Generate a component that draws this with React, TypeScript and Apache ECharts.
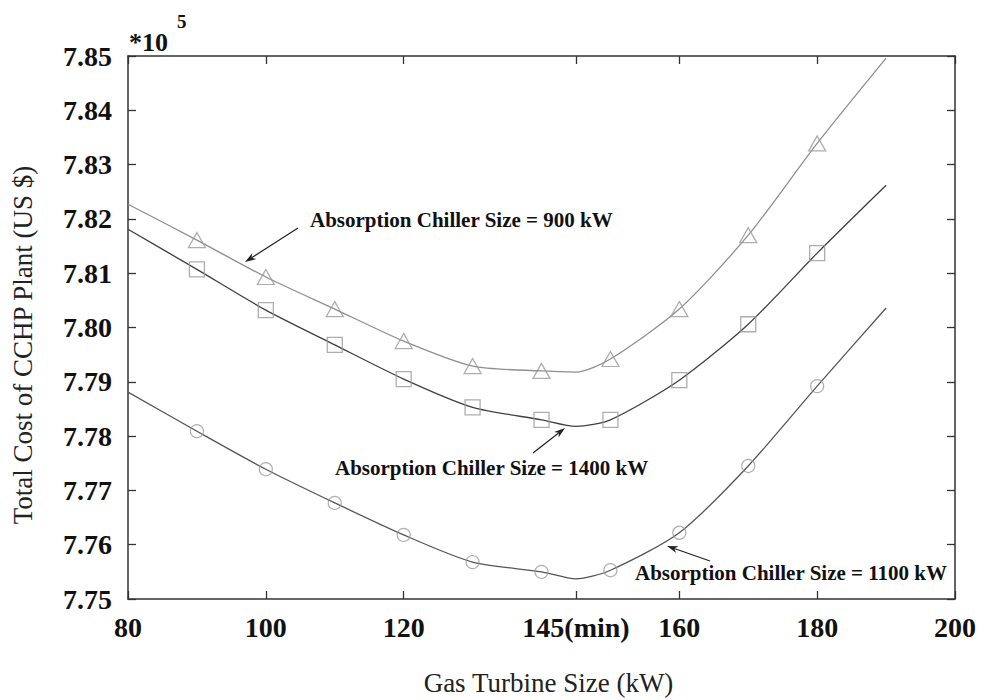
import React, { useEffect, useRef } from "react";
import * as echarts from "echarts";

// ---- data ----
const xTicks = [80, 100, 120, 145, 160, 180, 200];
const yMin = 7.75;
const yMax = 7.85;
const yStep = 0.01;

const markerX = [90, 100, 110, 120, 130, 140, 150, 160, 170, 180];
const markers900 = [7.8161, 7.8093, 7.8034, 7.7975, 7.7929, 7.792, 7.7942, 7.8034, 7.817, 7.8339];
const markers1400 = [7.8107, 7.8032, 7.7968, 7.7905, 7.7853, 7.783, 7.783, 7.7903, 7.8006, 7.8137];
const markers1100 = [7.7809, 7.7739, 7.7677, 7.7618, 7.7568, 7.755, 7.7553, 7.7622, 7.7745, 7.7892];

const curveX = [80, 90, 100, 110, 120, 130, 140, 145, 150, 160, 170, 180, 190];
const curve900 = [7.8227, 7.8161, 7.8093, 7.8034, 7.7975, 7.7929, 7.792, 7.7918, 7.7942, 7.8034, 7.817, 7.8339, 7.8496];
const curve1400 = [7.8181, 7.8107, 7.8032, 7.7968, 7.7905, 7.7853, 7.783, 7.7818, 7.783, 7.7903, 7.8006, 7.8137, 7.8262];
const curve1100 = [7.7881, 7.7809, 7.7739, 7.7677, 7.7618, 7.7568, 7.755, 7.7537, 7.7553, 7.7622, 7.7745, 7.7892, 7.8036];

const label900 = "Absorption Chiller Size = 900 kW";
const label1400 = "Absorption Chiller Size = 1400 kW";
const label1100 = "Absorption Chiller Size = 1100 kW";

const SERIF = '"Liberation Serif", "Times New Roman", serif';
const AXIS_COLOR = "#333";

function pairs(xs: number[], ys: number[]) {
  return xs.map((x, i) => [x, ys[i]]);
}

function arrow(x1: number, y1: number, x2: number, y2: number) {
  const dx = x2 - x1;
  const dy = y2 - y1;
  const len = Math.sqrt(dx * dx + dy * dy);
  const ux = dx / len;
  const uy = dy / len;
  const nx = -uy;
  const ny = ux;
  const L = 11;
  const W = 3.6;
  const bx = x2 - ux * L;
  const by = y2 - uy * L;
  const mx = x2 - ux * L * 0.7;
  const my = y2 - uy * L * 0.7;
  return [
    {
      type: "line",
      shape: { x1, y1, x2: mx, y2: my },
      style: { stroke: "#222", lineWidth: 1.2 },
      silent: true,
    },
    {
      type: "polygon",
      shape: {
        points: [
          [x2, y2],
          [bx + nx * W, by + ny * W],
          [mx, my],
          [bx - nx * W, by - ny * W],
        ],
      },
      style: { fill: "#222" },
      silent: true,
    },
  ];
}

function annotation(text: string, x: number, y: number) {
  return {
    type: "text",
    x,
    y,
    style: {
      text,
      fontFamily: SERIF,
      fontWeight: "bold",
      fontSize: 21,
      fill: "#111",
      align: "left",
      verticalAlign: "middle",
    },
    silent: true,
  };
}

export default function App() {
  const ref = useRef<HTMLDivElement>(null);

  useEffect(() => {
    document.body.style.margin = "0";
    if (!ref.current) return;
    const chart = echarts.init(ref.current, undefined, { renderer: "svg" });

    const tickCommon = {
      show: true,
      inside: true,
      length: 8,
      lineStyle: { color: AXIS_COLOR, width: 1.3 },
    };
    const axisLineCommon = {
      show: true,
      onZero: false,
      lineStyle: { color: AXIS_COLOR, width: 1.5 },
    };

    const option: any = {
      animation: false,
      backgroundColor: "#fff",
      grid: {
        left: 128,
        right: 29,
        top: 56,
        bottom: 101,
        containLabel: false,
        outerBoundsMode: "none",
      },
      xAxis: [
        {
          type: "value",
          min: 80,
          max: 200,
          position: "bottom",
          axisLine: axisLineCommon,
          axisTick: { ...tickCommon, customValues: xTicks },
          axisLabel: {
            customValues: xTicks,
            margin: 14,
            fontFamily: SERIF,
            fontWeight: "bold",
            fontSize: 28,
            color: "#111",
            formatter: (v: number) => (v === 145 ? "145(min)" : String(v)),
          },
          splitLine: { show: false },
          name: "Gas Turbine Size (kW)",
          nameLocation: "middle",
          nameGap: 70,
          nameTextStyle: {
            fontFamily: SERIF,
            fontSize: 27,
            color: "#222",
            padding: [0, 0, 0, 14],
          },
        },
        {
          type: "value",
          min: 80,
          max: 200,
          position: "top",
          axisLine: axisLineCommon,
          axisTick: { ...tickCommon, customValues: xTicks },
          axisLabel: { show: false },
          splitLine: { show: false },
        },
      ],
      yAxis: [
        {
          type: "value",
          min: yMin,
          max: yMax,
          interval: yStep,
          position: "left",
          axisLine: axisLineCommon,
          axisTick: tickCommon,
          axisLabel: {
            margin: 16,
            fontFamily: SERIF,
            fontWeight: "bold",
            fontSize: 28,
            color: "#111",
            formatter: (v: number) => v.toFixed(2),
          },
          splitLine: { show: false },
        },
        {
          type: "value",
          min: yMin,
          max: yMax,
          interval: yStep,
          position: "right",
          axisLine: axisLineCommon,
          axisTick: tickCommon,
          axisLabel: { show: false },
          splitLine: { show: false },
        },
      ],
      series: [
        {
          name: "900 kW curve",
          type: "line",
          data: pairs(curveX, curve900),
          smooth: 0.25,
          showSymbol: false,
          lineStyle: { color: "#8f8f8f", width: 1.3 },
          z: 2,
        },
        {
          name: "1400 kW curve",
          type: "line",
          data: pairs(curveX, curve1400),
          smooth: 0.25,
          showSymbol: false,
          lineStyle: { color: "#404040", width: 1.3 },
          z: 2,
        },
        {
          name: "1100 kW curve",
          type: "line",
          data: pairs(curveX, curve1100),
          smooth: 0.25,
          showSymbol: false,
          lineStyle: { color: "#555", width: 1.3 },
          z: 2,
        },
        {
          name: "900 kW",
          type: "scatter",
          data: pairs(markerX, markers900),
          symbol: "triangle",
          symbolSize: [17, 15],
          itemStyle: { color: "rgba(0,0,0,0)", borderColor: "#9a9a9a", borderWidth: 1.3 },
          z: 3,
        },
        {
          name: "1400 kW",
          type: "scatter",
          data: pairs(markerX, markers1400),
          symbol: "rect",
          symbolSize: 15,
          itemStyle: { color: "rgba(0,0,0,0)", borderColor: "#999", borderWidth: 1.3 },
          z: 3,
        },
        {
          name: "1100 kW",
          type: "scatter",
          data: pairs(markerX, markers1100),
          symbol: "circle",
          symbolSize: 13,
          itemStyle: { color: "rgba(0,0,0,0)", borderColor: "#999", borderWidth: 1.2 },
          z: 3,
        },
      ],
      graphic: {
        elements: [
          {
            type: "text",
            x: 23,
            y: 345,
            rotation: Math.PI / 2,
            style: {
              text: "Total Cost of CCHP Plant (US $)",
              fontFamily: SERIF,
              fontSize: 27,
              fill: "#222",
              align: "center",
              verticalAlign: "middle",
            },
            silent: true,
          },
          {
            type: "text",
            x: 129,
            y: 42,
            style: {
              text: "*10",
              fontFamily: SERIF,
              fontWeight: "bold",
              fontSize: 26,
              fill: "#111",
              align: "left",
              verticalAlign: "middle",
            },
            silent: true,
          },
          {
            type: "text",
            x: 177,
            y: 21,
            style: {
              text: "5",
              fontFamily: SERIF,
              fontWeight: "bold",
              fontSize: 19,
              fill: "#111",
              align: "left",
              verticalAlign: "middle",
            },
            silent: true,
          },
          annotation(label900, 310, 220),
          annotation(label1400, 335, 468),
          annotation(label1100, 635, 573),
          ...arrow(298, 228, 245, 262),
          ...arrow(533, 453, 565, 428),
          ...arrow(710, 561, 667, 546),
        ],
      },
    };

    chart.setOption(option);
    return () => {
      chart.dispose();
    };
  }, []);

  return <div ref={ref} style={{ width: 984, height: 700 }} />;
}
